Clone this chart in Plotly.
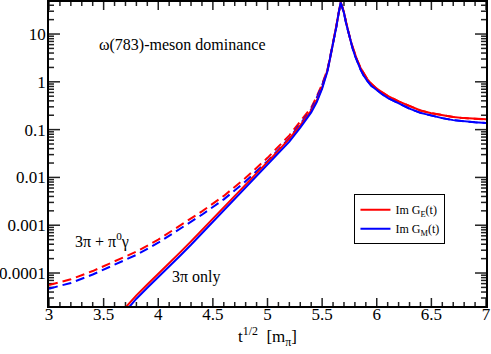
import math
import plotly.graph_objects as go

# ---------------- data ----------------
# sqrt(t) in units of m_pi
x_full = [3.0, 3.2, 3.4, 3.6, 3.8, 4.0, 4.2, 4.4, 4.6, 4.8, 5.0, 5.2, 5.3, 5.4,
          5.45, 5.5, 5.55, 5.58, 5.61, 5.63, 5.65, 5.66, 5.67, 5.68, 5.70, 5.72,
          5.74, 5.76, 5.78, 5.80, 5.82, 5.85, 5.88, 5.91, 5.95, 6.0, 6.05, 6.1,
          6.2, 6.3, 6.4, 6.5, 6.6, 6.7, 6.8, 6.9, 7.0]

# 3pi + pi0 gamma (dashed)
ge_full = [5.6e-5, 7.4e-5, 1.10e-4, 1.74e-4, 2.8e-4, 5.0e-4, 1.0e-3, 1.95e-3,
           4.1e-3, 9.8e-3, 0.0257, 0.0759, 0.148, 0.288, 0.49, 0.89, 1.86,
           3.80, 8.3, 14.5, 26.9, 37.2, 45.7, 39.8, 28.2, 17.4,
           11.0, 7.4, 5.25, 3.80, 2.88, 2.00, 1.48, 1.17, 0.91, 0.72, 0.60, 0.51,
           0.39, 0.309, 0.251, 0.221, 0.200, 0.184, 0.174, 0.168, 0.164]
gm_full = [4.7e-5, 6.2e-5, 9.3e-5, 1.48e-4, 2.4e-4, 4.3e-4, 8.5e-4, 1.66e-3,
           3.47e-3, 8.3e-3, 0.0219, 0.066, 0.132, 0.263, 0.46, 0.85, 1.80,
           3.72, 8.1, 14.1, 26.3, 36.3, 45.7, 38.9, 27.5, 16.6,
           10.5, 7.0, 4.90, 3.55, 2.66, 1.84, 1.36, 1.07, 0.83, 0.66, 0.55, 0.46,
           0.35, 0.275, 0.224, 0.195, 0.174, 0.158, 0.148, 0.142, 0.138]

# 3pi only (solid)
x_3pi = [3.7, 3.8, 3.9, 4.0, 4.1, 4.2, 4.3, 4.4, 4.5, 4.6, 4.7, 4.8, 4.9, 5.0,
         5.1, 5.2, 5.3, 5.4, 5.45, 5.5, 5.55, 5.58, 5.61, 5.63, 5.65, 5.66,
         5.67, 5.68, 5.70, 5.72, 5.74, 5.76, 5.78, 5.80, 5.82, 5.85, 5.88, 5.91,
         5.95, 6.0, 6.05, 6.1, 6.2, 6.3, 6.4, 6.5, 6.6, 6.7, 6.8, 6.9, 7.0]
ge_3pi = [1.9e-5, 3.4e-5, 5.75e-5, 9.5e-5, 1.58e-4, 2.7e-4, 4.6e-4, 7.9e-4,
          1.38e-3, 2.4e-3, 4.2e-3, 7.2e-3, 0.0123, 0.0209, 0.0363, 0.0646,
          0.123, 0.251, 0.398, 0.76, 1.78, 3.72, 8.3, 14.5, 26.9, 37.2,
          45.7, 39.8, 28.2, 17.4, 11.0, 7.4, 5.25, 3.80, 2.88, 2.00, 1.48, 1.17,
          0.91, 0.72, 0.60, 0.51, 0.39, 0.309, 0.251, 0.221, 0.200, 0.184, 0.174,
          0.168, 0.164]
gm_3pi = [1.58e-5, 2.9e-5, 4.9e-5, 8.1e-5, 1.35e-4, 2.3e-4, 3.9e-4, 6.8e-4,
          1.17e-3, 2.04e-3, 3.55e-3, 6.2e-3, 0.0107, 0.0182, 0.0316, 0.0562,
          0.110, 0.229, 0.372, 0.72, 1.70, 3.63, 8.1, 14.1, 26.3, 36.3,
          45.7, 38.9, 27.5, 16.6, 10.5, 7.0, 4.90, 3.55, 2.66, 1.84, 1.36, 1.07,
          0.83, 0.66, 0.55, 0.46, 0.35, 0.275, 0.224, 0.195, 0.174, 0.158, 0.148,
          0.142, 0.138]

x_tick_vals = [3, 3.5, 4, 4.5, 5, 5.5, 6, 6.5, 7]
x_minor_vals = [round(3 + 0.1 * i, 1) for i in range(41) if i % 5]
y_tick_vals = [1e-4, 1e-3, 1e-2, 1e-1, 1, 10]
y_tick_text = ["0.0001", "0.001", "0.01", "0.1", "1", "10"]
y_minor_vals = [k * 10.0 ** n for n in range(-5, 2) for k in range(2, 10)]

RED = "#ff0000"
BLUE = "#0000ff"
FONT = "Liberation Serif"
DASH = "9px,5px"
X_RANGE = [3, 7]
Y_RANGE = [-4.69, 1.67]          # log10 range

W, H = 491, 354
M_L, M_R, M_T, M_B = 49, 5, 2, 48
PW, PH = W - M_L - M_R, H - M_T - M_B

fig = go.Figure()

# ---- tick marks inside the frame on all four sides (built from the axis ranges) ----
xs_span = X_RANGE[1] - X_RANGE[0]
ys_span = Y_RANGE[1] - Y_RANGE[0]
tx, ty = [], []
for vals, ln in ((x_tick_vals, 8), (x_minor_vals, 4)):
    d = ln / PH * ys_span
    for v in vals:
        tx += [v, v, None, v, v, None]
        ty += [10 ** Y_RANGE[0], 10 ** (Y_RANGE[0] + d), None,
               10 ** Y_RANGE[1], 10 ** (Y_RANGE[1] - d), None]
for vals, ln in ((y_tick_vals, 11), (y_minor_vals, 5)):
    d = ln / PW * xs_span
    for v in vals:
        if not (Y_RANGE[0] < math.log10(v) < Y_RANGE[1]):
            continue
        tx += [X_RANGE[0], X_RANGE[0] + d, None, X_RANGE[1], X_RANGE[1] - d, None]
        ty += [v, v, None, v, v, None]
fig.add_trace(go.Scatter(x=tx, y=ty, mode="lines", line=dict(color="#222222", width=1.5),
                         hoverinfo="skip", showlegend=False, cliponaxis=False))

fig.add_trace(go.Scatter(x=x_full, y=ge_full, mode="lines",
                         line=dict(color=RED, width=2, dash=DASH), showlegend=False))
fig.add_trace(go.Scatter(x=x_full, y=gm_full, mode="lines",
                         line=dict(color=BLUE, width=2, dash=DASH), showlegend=False))
fig.add_trace(go.Scatter(x=x_3pi, y=ge_3pi, mode="lines", name="Im G<sub>E</sub>(t)",
                         line=dict(color=RED, width=2)))
fig.add_trace(go.Scatter(x=x_3pi, y=gm_3pi, mode="lines", name="Im G<sub>M</sub>(t)",
                         line=dict(color=BLUE, width=2)))

fig.update_xaxes(range=X_RANGE, tickmode="array", tickvals=x_tick_vals,
                 ticktext=[f"{v:g}" for v in x_tick_vals], ticks="",
                 showline=True, linecolor="black", linewidth=1.5, mirror=True,
                 showgrid=False, zeroline=False, automargin=False,
                 ticklabelstandoff=-8,
                 tickfont=dict(family=FONT, size=17, color="black"),
                 title=dict(text="t<sup>1/2</sup>  [m<sub>π</sub>]",
                            font=dict(family=FONT, size=17, color="black"),
                            standoff=1))
fig.update_yaxes(type="log", range=Y_RANGE, tickmode="array",
                 tickvals=y_tick_vals, ticktext=y_tick_text, ticks="",
                 showline=True, linecolor="black", linewidth=1.5, mirror=True,
                 showgrid=False, zeroline=False, automargin=False,
                 ticklabelstandoff=-2,
                 tickfont=dict(family=FONT, size=17, color="black"))

fig.add_annotation(x=3.44, y=0.77, xref="x", yref="y", text="ω(783)-meson dominance",
                   showarrow=False, xanchor="left", yanchor="middle",
                   font=dict(family=FONT, size=16, color="black"))
fig.add_annotation(x=3.22, y=-3.31, xref="x", yref="y", text="3π + π<sup>0</sup>γ",
                   showarrow=False, xanchor="left", yanchor="middle",
                   font=dict(family=FONT, size=16, color="black"))
fig.add_annotation(x=4.108, y=-4.09, xref="x", yref="y", text="3π only",
                   showarrow=False, xanchor="left", yanchor="middle",
                   font=dict(family=FONT, size=16, color="black"))

fig.update_layout(
    width=W, height=H,
    margin=dict(l=M_L, r=M_R, t=M_T, b=M_B, autoexpand=False),
    paper_bgcolor="white", plot_bgcolor="white",
    legend=dict(x=0.699, y=0.368, xanchor="left", yanchor="top",
                bgcolor="white", bordercolor="black", borderwidth=1,
                font=dict(family=FONT, size=12, color="black"),
                tracegroupgap=0),
)

fig.write_html("out.html", config={"displayModeBar": False},
               post_script="document.body.style.margin='0';document.body.style.overflow='hidden';")
